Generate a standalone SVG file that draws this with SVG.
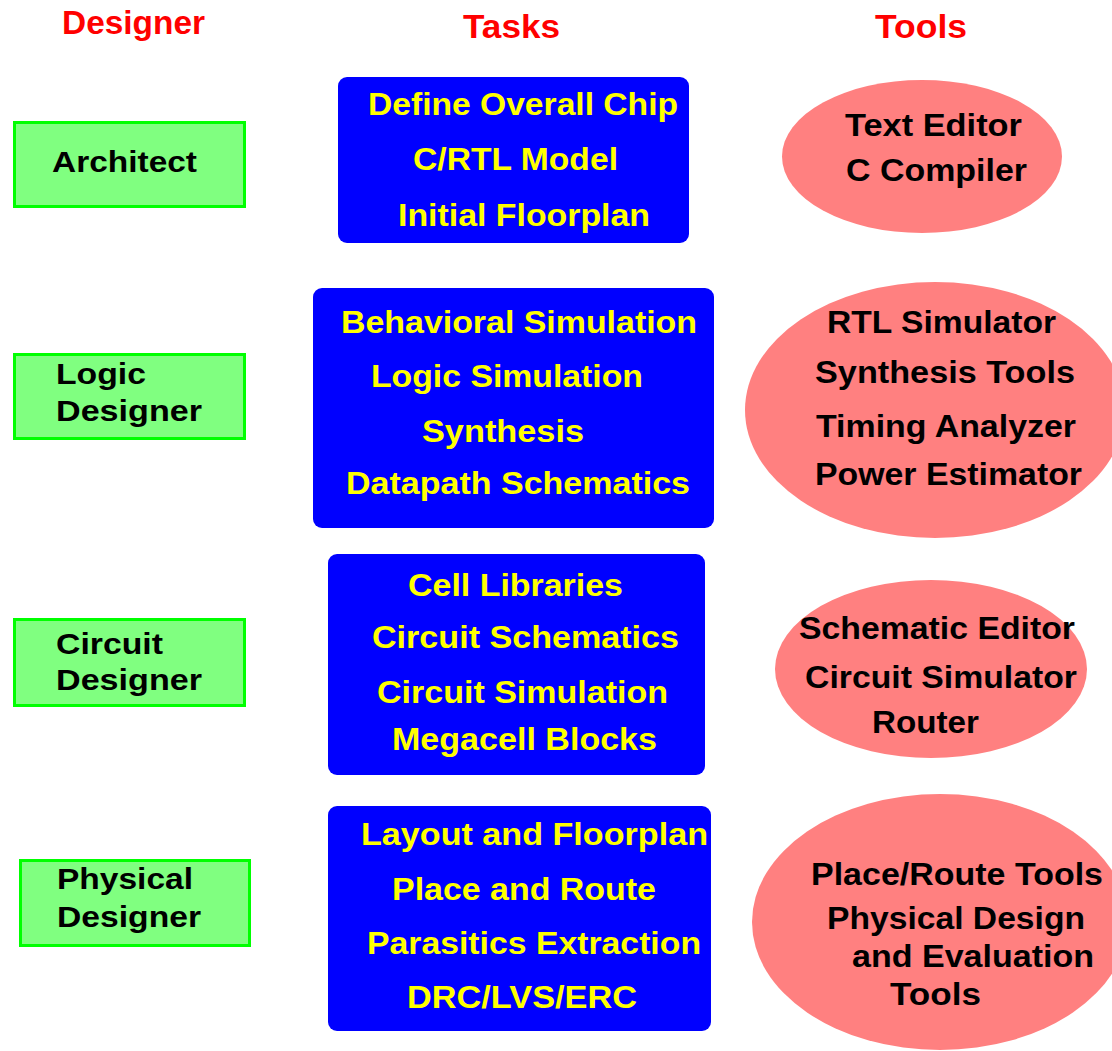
<svg xmlns="http://www.w3.org/2000/svg" width="1112" height="1051" viewBox="0 0 1112 1051">
<style>
.hdr{font-family:"Liberation Sans",Arial,sans-serif;font-weight:bold;font-size:34px;fill:#ff0000}
.role rect{fill:#80ff80;stroke:#00ff00;stroke-width:3}
.role text{font-family:"Liberation Sans",Arial,sans-serif;font-weight:bold;font-size:30px;fill:#000}
.task rect{fill:#0000ff}
.task text{font-family:"Liberation Sans",Arial,sans-serif;font-weight:bold;font-size:31px;fill:#ffff00}
.tool ellipse{fill:#ff8080}
.tool text{font-family:"Liberation Sans",Arial,sans-serif;font-weight:bold;font-size:31px;fill:#000}
</style>
<rect width="1112" height="1051" fill="#ffffff"/>
<g id="headers">
<text class="hdr" x="62" y="34" textLength="143" lengthAdjust="spacingAndGlyphs">Designer</text>
<text class="hdr" x="463" y="38" textLength="97" lengthAdjust="spacingAndGlyphs">Tasks</text>
<text class="hdr" x="875" y="38" textLength="92" lengthAdjust="spacingAndGlyphs">Tools</text>
</g>
<g id="architect" class="role">
<rect x="14.5" y="122.5" width="230" height="84"/>
<text x="52" y="172" textLength="145" lengthAdjust="spacingAndGlyphs">Architect</text>
</g>
<g id="logic-designer" class="role">
<rect x="14.5" y="354.5" width="230" height="84"/>
<text x="56" y="384" textLength="90" lengthAdjust="spacingAndGlyphs">Logic</text>
<text x="56" y="421" textLength="146" lengthAdjust="spacingAndGlyphs">Designer</text>
</g>
<g id="circuit-designer" class="role">
<rect x="14.5" y="619.5" width="230" height="86"/>
<text x="56" y="654" textLength="107" lengthAdjust="spacingAndGlyphs">Circuit</text>
<text x="56" y="690" textLength="146" lengthAdjust="spacingAndGlyphs">Designer</text>
</g>
<g id="physical-designer" class="role">
<rect x="20.5" y="860.5" width="229" height="85"/>
<text x="57" y="889" textLength="136" lengthAdjust="spacingAndGlyphs">Physical</text>
<text x="57" y="927" textLength="144" lengthAdjust="spacingAndGlyphs">Designer</text>
</g>
<g id="tasks-architect" class="task">
<rect x="338" y="77" width="351" height="166" rx="9"/>
<text x="368" y="115" textLength="310" lengthAdjust="spacingAndGlyphs">Define Overall Chip</text>
<text x="413" y="170" textLength="205" lengthAdjust="spacingAndGlyphs">C/RTL Model</text>
<text x="398" y="226" textLength="252" lengthAdjust="spacingAndGlyphs">Initial Floorplan</text>
</g>
<g id="tasks-logic" class="task">
<rect x="313" y="288" width="401" height="240" rx="9"/>
<text x="341" y="333" textLength="356" lengthAdjust="spacingAndGlyphs">Behavioral Simulation</text>
<text x="371" y="387" textLength="272" lengthAdjust="spacingAndGlyphs">Logic Simulation</text>
<text x="422" y="442" textLength="162" lengthAdjust="spacingAndGlyphs">Synthesis</text>
<text x="346" y="494" textLength="344" lengthAdjust="spacingAndGlyphs">Datapath Schematics</text>
</g>
<g id="tasks-circuit" class="task">
<rect x="328" y="554" width="377" height="221" rx="9"/>
<text x="408" y="596" textLength="215" lengthAdjust="spacingAndGlyphs">Cell Libraries</text>
<text x="372" y="648" textLength="307" lengthAdjust="spacingAndGlyphs">Circuit Schematics</text>
<text x="377" y="703" textLength="291" lengthAdjust="spacingAndGlyphs">Circuit Simulation</text>
<text x="392" y="750" textLength="265" lengthAdjust="spacingAndGlyphs">Megacell Blocks</text>
</g>
<g id="tasks-physical" class="task">
<rect x="328" y="806" width="383" height="225" rx="9"/>
<text x="361" y="845" textLength="347" lengthAdjust="spacingAndGlyphs">Layout and Floorplan</text>
<text x="392" y="900" textLength="264" lengthAdjust="spacingAndGlyphs">Place and Route</text>
<text x="367" y="954" textLength="334" lengthAdjust="spacingAndGlyphs">Parasitics Extraction</text>
<text x="407" y="1008" textLength="230" lengthAdjust="spacingAndGlyphs">DRC/LVS/ERC</text>
</g>
<g id="tools-architect" class="tool">
<ellipse cx="922" cy="156.5" rx="140" ry="76.5"/>
<text x="845" y="136" textLength="177" lengthAdjust="spacingAndGlyphs">Text Editor</text>
<text x="846" y="181" textLength="181" lengthAdjust="spacingAndGlyphs">C Compiler</text>
</g>
<g id="tools-logic" class="tool">
<ellipse cx="935" cy="410" rx="190" ry="128"/>
<text x="827" y="333" textLength="229" lengthAdjust="spacingAndGlyphs">RTL Simulator</text>
<text x="815" y="383" textLength="260" lengthAdjust="spacingAndGlyphs">Synthesis Tools</text>
<text x="816" y="437" textLength="260" lengthAdjust="spacingAndGlyphs">Timing Analyzer</text>
<text x="815" y="485" textLength="267" lengthAdjust="spacingAndGlyphs">Power Estimator</text>
</g>
<g id="tools-circuit" class="tool">
<ellipse cx="931" cy="669" rx="156" ry="89"/>
<text x="799" y="639" textLength="276" lengthAdjust="spacingAndGlyphs">Schematic Editor</text>
<text x="805" y="688" textLength="272" lengthAdjust="spacingAndGlyphs">Circuit Simulator</text>
<text x="872" y="733" textLength="107" lengthAdjust="spacingAndGlyphs">Router</text>
</g>
<g id="tools-physical" class="tool">
<ellipse cx="940" cy="922" rx="188" ry="128"/>
<text x="811" y="885" textLength="292" lengthAdjust="spacingAndGlyphs">Place/Route Tools</text>
<text x="827" y="929" textLength="258" lengthAdjust="spacingAndGlyphs">Physical Design</text>
<text x="852" y="967" textLength="242" lengthAdjust="spacingAndGlyphs">and Evaluation</text>
<text x="890" y="1005" textLength="91" lengthAdjust="spacingAndGlyphs">Tools</text>
</g>
<g id="connectors"/>
</svg>
